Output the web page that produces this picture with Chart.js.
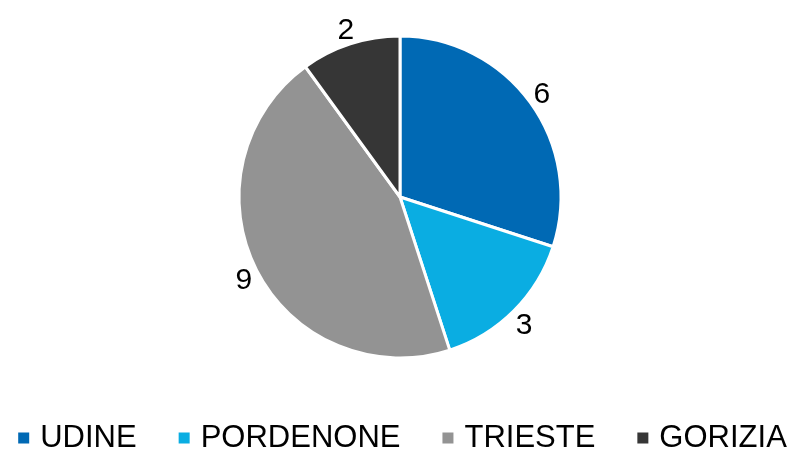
<!DOCTYPE html>
<html>
<head>
<meta charset="utf-8">
<script src="https://cdn.jsdelivr.net/npm/chart.js@4"></script>
<style>
    body { margin: 0; background: #fff; }
    canvas { display: block; }
</style>
</head>
<body>
<canvas id="pie-chart" width="795" height="452"></canvas>
<script>
const provinces = ["UDINE", "PORDENONE", "TRIESTE", "GORIZIA"];
const counts = [6, 3, 9, 2];
const sliceColors = ["#0069b4", "#0aade2", "#939393", "#363636"];

const FONT = "'Liberation Sans', Arial, sans-serif";

// value labels outside each slice
const outsideLabels = {
    id: "outsideLabels",
    afterDatasetsDraw(chart) {
        const ctx = chart.ctx;
        const meta = chart.getDatasetMeta(0);
        ctx.save();
        ctx.font = `30px ${FONT}`;
        ctx.fillStyle = "#000";
        ctx.textAlign = "center";
        ctx.textBaseline = "alphabetic";
        meta.data.forEach((arc, i) => {
            const { x, y, startAngle, endAngle, outerRadius } = arc.getProps(["x", "y", "startAngle", "endAngle", "outerRadius"], true);
            const mid = (startAngle + endAngle) / 2;
            const text = String(counts[i]);
            const w = ctx.measureText(text).width;
            const h = 22;
            const r = outerRadius + 6;
            const cx = x + Math.cos(mid) * r + Math.cos(mid) * w / 2;
            const cy = y + Math.sin(mid) * r + Math.sin(mid) * h / 2;
            ctx.fillText(text, cx, cy + h / 2);
        });
        ctx.restore();
    }
};

// one-row legend at the bottom (built-in one wraps at this spacing)
const bottomLegend = {
    id: "bottomLegend",
    afterDraw(chart) {
        const ctx = chart.ctx;
        const box = 11, boxGap = 11, itemGap = 42, rowY = 437;
        ctx.save();
        ctx.font = `31px ${FONT}`;
        ctx.textBaseline = "middle";
        ctx.textAlign = "left";
        const widths = provinces.map(p => ctx.measureText(p).width);
        const total = widths.reduce((s, w) => s + w + box + boxGap, 0) + itemGap * (provinces.length - 1);
        let x = (chart.width + 10) / 2 - total / 2;
        provinces.forEach((p, i) => {
            ctx.fillStyle = sliceColors[i];
            ctx.fillRect(x, rowY - box / 2 + 1, box, box);
            ctx.fillStyle = "#000";
            ctx.fillText(p, x + box + boxGap, rowY + 1);
            x += box + boxGap + widths[i] + itemGap;
        });
        ctx.restore();
    }
};

const ctx = document.getElementById("pie-chart").getContext("2d");

new Chart(ctx, {
    type: "pie",
    data: {
        labels: provinces,
        datasets: [{
            data: counts,
            backgroundColor: sliceColors,
            borderColor: "#ffffff",
            borderWidth: 3
        }]
    },
    options: {
        responsive: false,
        animation: false,
        radius: 161,
        layout: {
            padding: { top: 0, bottom: 58, left: 5, right: 0 }
        },
        plugins: {
            tooltip: { enabled: false },
            legend: { display: false }
        }
    },
    plugins: [outsideLabels, bottomLegend]
});
</script>
</body>
</html>
